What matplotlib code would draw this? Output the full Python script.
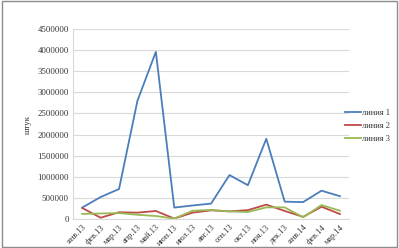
import matplotlib
matplotlib.use("Agg")
import matplotlib.pyplot as plt
from matplotlib.patches import Rectangle

categories = ["янв.13", "фев.13", "мар.13", "апр.13", "май.13", "июн.13", "июл.13",
              "авг.13", "сен.13", "окт.13", "ноя.13", "дек.13", "янв.14", "фев.14", "мар.14"]
line1 = [270000, 520000, 710000, 2800000, 3960000, 270000, 320000, 365000,
         1040000, 800000, 1900000, 410000, 400000, 670000, 540000]
line2 = [260000, 30000, 160000, 150000, 190000, 10000, 150000, 205000,
         180000, 210000, 340000, 190000, 50000, 290000, 117000]
line3 = [120000, 130000, 140000, 100000, 70000, 10000, 195000, 215000,
         180000, 165000, 275000, 275000, 40000, 330000, 195000]
names = ["линия 1", "линия 2", "линия 3"]
colors = ["#4a7ebb", "#be4b48", "#98b954"]
yticks = list(range(0, 4500001, 500000))

plt.rcParams['font.family'] = ['Liberation Serif', 'DejaVu Serif']

fig = plt.figure(figsize=(3.99, 2.48), dpi=100)
ax = fig.add_axes([0.183, 0.117, 0.692, 0.766])

x = list(range(len(categories)))
for vals, name, c in zip([line1, line2, line3], names, colors):
    ax.plot(x, vals, color=c, lw=1.3, label=name)

ax.set_xlim(-0.5, len(categories) - 0.5)
ax.set_ylim(0, 4500000)
ax.set_yticks(yticks)
ax.set_yticklabels([str(v) for v in yticks], fontsize=6.3)
ax.set_xticks(x)
ax.set_xticklabels(categories, rotation=45, ha='right', rotation_mode='anchor', fontsize=6)
ax.tick_params(axis='both', length=0, pad=3, colors='#333333')
ax.grid(axis='y', color='#d9d9d9', lw=0.8)
ax.set_axisbelow(True)
for s in ['top', 'right']:
    ax.spines[s].set_visible(False)
ax.spines['bottom'].set_color('#d9d9d9')
ax.spines['left'].set_color('#d9d9d9')
ax.spines['left'].set_linewidth(0.8)
ax.set_ylabel("штук", fontsize=6.3, labelpad=4, color='#333333')

leg = ax.legend(loc='center left', bbox_to_anchor=(0.985, 0.49), frameon=False,
                fontsize=6, handlelength=1.9, handletextpad=0.1, labelspacing=0.6,
                borderaxespad=0.0, borderpad=0.0)
for t in leg.get_texts():
    t.set_color('#333333')

fig.patches.append(Rectangle((0.004, 0.006), 0.99, 0.988, transform=fig.transFigure,
                             fill=False, edgecolor='#8c8c8c', lw=1.0))

fig.savefig("out.png", dpi=100)
